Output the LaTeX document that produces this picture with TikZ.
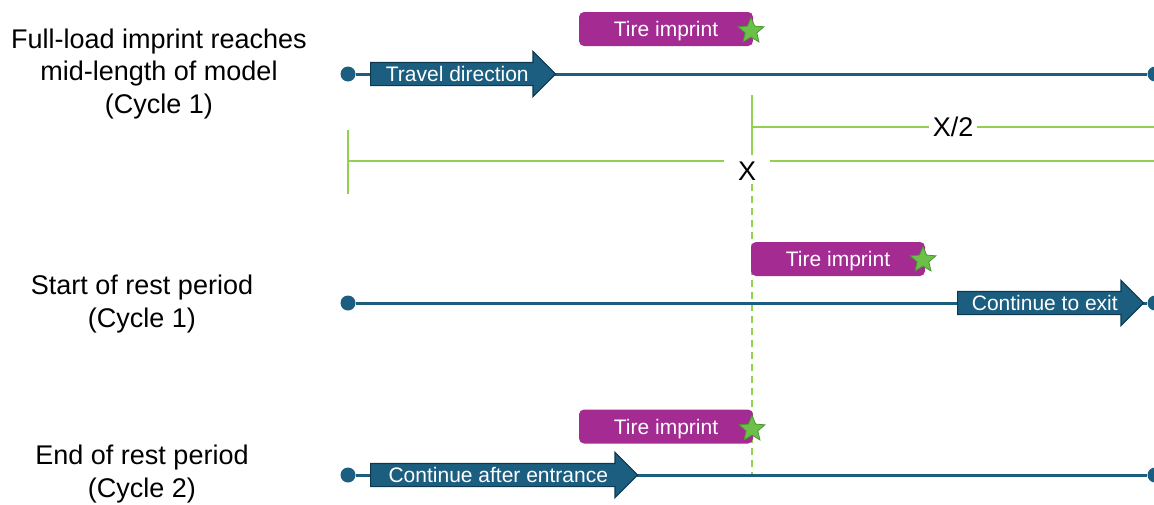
\documentclass[tikz,border=0pt]{standalone}
\usepackage{fontspec}
\setmainfont{Liberation Sans}
\usepackage{xcolor}
\definecolor{RoadBlue}{RGB}{27,94,128}
\definecolor{RoadEdge}{RGB}{14,56,78}
\definecolor{TirePurple}{RGB}{163,43,146}
\definecolor{GaugeGreen}{RGB}{146,208,80}
\definecolor{StarGreen}{RGB}{108,192,74}
\definecolor{StarEdge}{RGB}{72,150,48}
\usetikzlibrary{math,shapes.arrows,shapes.geometric}
\tikzset{%
  road/.style={draw=RoadBlue, line width=1.5pt},
  road end/.style={circle, fill=RoadBlue, inner sep=0pt, minimum size=7.5pt},
  move arrow/.style={single arrow, anchor=tail, fill=RoadBlue, draw=RoadEdge, line width=0.6pt,
    text=white, font=\fontsize{10.5}{12}\selectfont, text height=7.6pt, text depth=0pt,
    inner ysep=1.7pt, inner xsep=2pt, single arrow head extend=5.5pt, single arrow tip angle=90},
  imprint/.style={fill=TirePurple, rounded corners=2.5pt, text=white, font=\fontsize{10.5}{12}\selectfont,
    text height=7.6pt, text depth=0pt, minimum width=87pt, minimum height=17pt, inner sep=0pt},
  star mark/.style={star, star points=5, star point ratio=2.2, fill=StarGreen, draw=StarEdge,
    line width=0.4pt, minimum size=13.5pt, inner sep=0pt},
  gauge/.style={draw=GaugeGreen, line width=1pt},
  gauge label/.style={fill=white, font=\fontsize{13.5}{16}\selectfont, inner sep=2pt},
  case label/.style={align=center, font=\fontsize{13.5}{16.3}\selectfont}
}

\begin{document}
\begin{tikzpicture}[x=0.5pt,y=-0.5pt]
    \tikzmath{
      \xl=348; \xr=1155; % road ends
      \xm=752; % mid-length of model
      \ya=74; \yb=303; \yc=475; % rows
    }
    \useasboundingbox (0,0) rectangle (1154,504);
    % Gauges:
    \coordinate (half top) at (\xm,95);
    \coordinate (half bot) at (\xm,148);
    \coordinate (half left) at (\xm,127);
    \coordinate (half right) at (1154,127);
    \coordinate (full top) at (\xl,130);
    \coordinate (full bot) at (\xl,194);
    \coordinate (full left) at (\xl,161);
    \coordinate (full right) at (1154,161);
    \coordinate (mid end) at (\xm,\yc);
    \draw[gauge, dash pattern=on 3.5pt off 2.5pt] (half bot) -- (mid end);
    \draw[gauge] (half top) -- (half bot);
    \draw[gauge] (half left) -- (half right) node[pos=0.5, gauge label] (half label) {X/2};
    \draw[gauge] (full top) -- (full bot);
    \draw[gauge] (full left) -- (full right);
    \node[gauge label, inner xsep=7pt] (full label) at (747,171) {X};
    % Case A:
    \node[case label] (case a) at (159,74) {Full-load imprint reaches\\mid-length of model\\(Cycle 1)};
    \node[road end] (a0) at (\xl,\ya) {};
    \node[road end] (a1) at (\xr,\ya) {};
    \draw[road] (a0) -- (a1);
    \node[move arrow, minimum height=92.5pt] (travel) at (370,\ya) {Travel direction};
    \node[imprint] (tire a) at (666,29) {Tire imprint};
    \node[star mark] (star a) at (751,31) {};
    % Case B:
    \node[case label] (case b) at (142,304) {Start of rest period\\(Cycle 1)};
    \node[road end] (b0) at (\xl,\yb) {};
    \node[road end] (b1) at (\xr,\yb) {};
    \draw[road] (b0) -- (b1);
    \node[move arrow, minimum height=93pt] (exit) at (957,\yb) {Continue to exit};
    \node[imprint] (tire b) at (838,259) {Tire imprint};
    \node[star mark] (star b) at (923,260) {};
    % Case C:
    \node[case label] (case c) at (142,474) {End of rest period\\(Cycle 2)};
    \node[road end] (c0) at (\xl,\yc) {};
    \node[road end] (c1) at (\xr,\yc) {};
    \draw[road] (c0) -- (c1);
    \node[move arrow, minimum height=133.5pt] (entrance) at (370,\yc) {Continue after entrance};
    \node[imprint] (tire c) at (666,426.5) {Tire imprint};
    \node[star mark] (star c) at (752,429) {};
\end{tikzpicture}
\end{document}
